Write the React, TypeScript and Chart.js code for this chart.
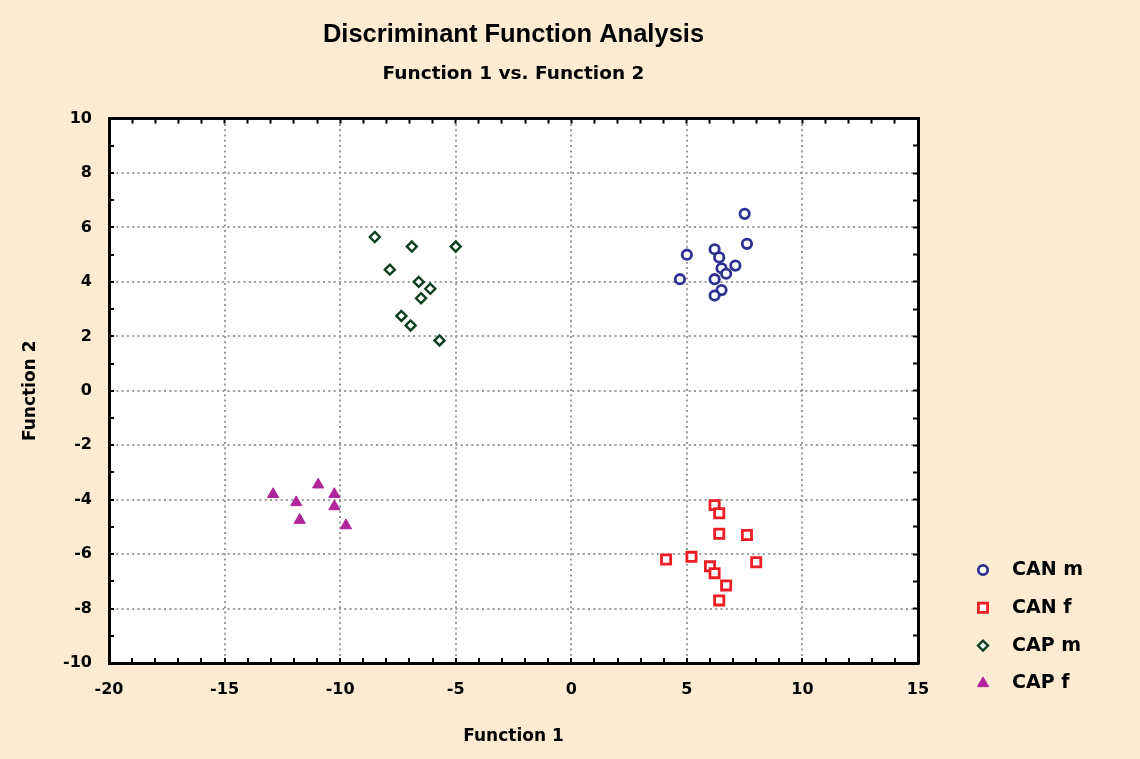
import React, { useEffect, useRef } from 'react';
import { Chart, registerables } from 'chart.js';
import { drawPoint } from 'chart.js/helpers';

Chart.register(...registerables);

// ---- Texts ----
const TITLE = 'Discriminant Function Analysis';
const SUBTITLE = 'Function 1 vs. Function 2';
const X_TITLE = 'Function 1';
const Y_TITLE = 'Function 2';
const SERIES_LABELS = ['CAN m', 'CAN f', 'CAP m', 'CAP f'];

// ---- Tick labels ----
const X_TICK_LABELS = [-20, -15, -10, -5, 0, 5, 10, 15];
const Y_TICK_LABELS = [-10, -8, -6, -4, -2, 0, 2, 4, 6, 8, 10];

// ---- Series values ----
const CAN_M_X = [7.5, 7.6, 5.0, 6.2, 6.4, 7.1, 6.5, 6.7, 4.7, 6.2, 6.5, 6.2];
const CAN_M_Y = [6.5, 5.4, 5.0, 5.2, 4.9, 4.6, 4.5, 4.3, 4.1, 4.1, 3.7, 3.5];

const CAN_F_X = [6.2, 6.4, 6.4, 7.6, 4.1, 5.2, 8.0, 6.0, 6.2, 6.7, 6.4];
const CAN_F_Y = [-4.2, -4.5, -5.25, -5.3, -6.2, -6.1, -6.3, -6.45, -6.7, -7.15, -7.7];

const CAP_M_X = [-8.5, -6.9, -5.0, -7.85, -6.6, -6.1, -6.5, -7.35, -6.95, -5.7];
const CAP_M_Y = [5.65, 5.3, 5.3, 4.45, 4.0, 3.75, 3.4, 2.75, 2.4, 1.85];

const CAP_F_X = [-12.9, -10.95, -11.9, -10.25, -10.25, -11.75, -9.75];
const CAP_F_Y = [-3.8, -3.45, -4.1, -3.8, -4.25, -4.75, -4.95];

// ---- Styles ----
const PAGE_BG = '#FDEBD3';
const GRID_COLOR = '#9A9A9A';
const SANS = 'DejaVu Sans';

const toPoints = (xs: number[], ys: number[]) => xs.map((x, i) => ({ x, y: ys[i] }));

const plotBgPlugin = {
  id: 'plotBg',
  beforeDraw(chart: any) {
    const { ctx, chartArea } = chart;
    if (!chartArea) return;
    ctx.save();
    ctx.fillStyle = '#ffffff';
    ctx.fillRect(chartArea.left, chartArea.top, chartArea.right - chartArea.left, chartArea.bottom - chartArea.top);
    ctx.restore();
  },
};

const LEG_MARK_X = 983;
const LEG_TEXT_X = 1012;
const LEG_Y0 = 570;
const LEG_STEP = 37.8;

const sideLegendPlugin = {
  id: 'sideLegend',
  afterDraw(chart: any) {
    const ctx = chart.ctx;
    chart.data.datasets.forEach((ds: any, i: number) => {
      const y = LEG_Y0 + i * LEG_STEP;
      ctx.save();
      ctx.lineWidth = ds.borderWidth;
      ctx.strokeStyle = ds.borderColor;
      ctx.fillStyle = ds.backgroundColor;
      drawPoint(ctx, { pointStyle: ds.pointStyle, radius: ds.pointRadius, rotation: 0, borderWidth: ds.borderWidth } as any, LEG_MARK_X, y);
      ctx.fillStyle = '#000';
      ctx.font = `bold 19px "${SANS}"`;
      ctx.textBaseline = 'middle';
      ctx.textAlign = 'left';
      ctx.fillText(ds.label, LEG_TEXT_X, y);
      ctx.restore();
    });
  },
};

const tickFont = { family: SANS, size: 16, weight: 'bold' as const };
const axisTitleFont = { family: SANS, size: 17, weight: 'bold' as const };

export default function App() {
  const ref = useRef<HTMLCanvasElement>(null);

  useEffect(() => {
    document.body.style.margin = '0';
    document.body.style.background = PAGE_BG;
    const canvas = ref.current;
    if (!canvas) return;

    const chart = new Chart(canvas, {
      type: 'scatter',
      data: {
        datasets: [
          {
            label: SERIES_LABELS[0],
            data: toPoints(CAN_M_X, CAN_M_Y),
            pointStyle: 'circle',
            pointRadius: 4.7,
            borderWidth: 2.8,
            borderColor: '#2E3192',
            backgroundColor: '#ffffff',
          },
          {
            label: SERIES_LABELS[1],
            data: toPoints(CAN_F_X, CAN_F_Y),
            pointStyle: 'rect',
            pointRadius: 6.5,
            borderWidth: 2.8,
            borderColor: '#EE1C24',
            backgroundColor: '#ffffff',
          },
          {
            label: SERIES_LABELS[2],
            data: toPoints(CAP_M_X, CAP_M_Y),
            pointStyle: 'rectRot',
            pointRadius: 5,
            borderWidth: 2.4,
            borderColor: '#0B3F1F',
            backgroundColor: '#ffffff',
          },
          {
            label: SERIES_LABELS[3],
            data: toPoints(CAP_F_X, CAP_F_Y),
            pointStyle: 'triangle',
            pointRadius: 6.5,
            borderWidth: 1,
            borderColor: '#B0259C',
            backgroundColor: '#B0259C',
          },
        ] as any,
      },
      options: {
        animation: false,
        responsive: true,
        maintainAspectRatio: false,
        layout: { padding: { left: 0, right: 222, top: 0, bottom: 0 } },
        plugins: {
          legend: { display: false },
          tooltip: { enabled: false },
          title: {
            display: true,
            text: TITLE,
            fullSize: false,
            color: '#000',
            font: { family: 'Liberation Sans', size: 25.5, weight: 'bold' },
            padding: { top: 20, bottom: 0 },
          },
          subtitle: {
            display: true,
            text: SUBTITLE,
            fullSize: false,
            color: '#000',
            font: { family: SANS, size: 18.5, weight: 'bold' },
            padding: { top: 12.4, bottom: 33.4 },
          },
        },
        scales: {
          x: {
            type: 'linear',
            position: 'bottom',
            min: -20,
            max: 15,
            afterFit: (s: any) => { s.height = 96; },
            ticks: {
              stepSize: 1,
              autoSkip: false,
              maxRotation: 0,
              padding: 22.4,
              color: '#000',
              font: tickFont,
              callback: (v: any) => (X_TICK_LABELS.includes(Number(v)) ? String(v) : ''),
            },
            grid: {
              color: (c: any) => (X_TICK_LABELS.includes(c.tick?.value) ? GRID_COLOR : 'rgba(0,0,0,0)'),
              lineWidth: 2,
              drawTicks: true,
              tickLength: -5,
              tickColor: '#000',
              tickWidth: 2,
            },
            border: { display: true, color: '#000', width: 3, dash: [2, 3.3] },
            title: { display: true, text: X_TITLE, color: '#000', font: axisTitleFont, padding: { top: 0, bottom: 11.8 } },
          },
          y: {
            type: 'linear',
            position: 'left',
            min: -10,
            max: 10,
            afterFit: (s: any) => { s.width = 109; },
            ticks: {
              stepSize: 1,
              autoSkip: false,
              padding: 22,
              color: '#000',
              font: tickFont,
              callback: (v: any) => (Y_TICK_LABELS.includes(Number(v)) ? String(v) : ''),
            },
            grid: {
              color: (c: any) => (Y_TICK_LABELS.includes(c.tick?.value) ? GRID_COLOR : 'rgba(0,0,0,0)'),
              lineWidth: 2,
              drawTicks: true,
              tickLength: -5,
              tickColor: '#000',
              tickWidth: 2,
            },
            border: { display: true, color: '#000', width: 3, dash: [2, 3.3] },
            title: { display: true, text: Y_TITLE, color: '#000', font: axisTitleFont, padding: { top: 20, bottom: 0 } },
          },
          x2: {
            type: 'linear',
            position: 'top',
            min: -20,
            max: 15,
            afterFit: (s: any) => { s.height = 0; },
            ticks: { display: false, stepSize: 1, autoSkip: false },
            grid: { drawOnChartArea: false, drawTicks: true, tickLength: -5, tickColor: '#000', tickWidth: 2 },
            border: { display: true, color: '#000', width: 3 },
          },
          y2: {
            type: 'linear',
            position: 'right',
            min: -10,
            max: 10,
            afterFit: (s: any) => { s.width = 0; },
            ticks: { display: false, stepSize: 1, autoSkip: false },
            grid: { drawOnChartArea: false, drawTicks: true, tickLength: -5, tickColor: '#000', tickWidth: 2 },
            border: { display: true, color: '#000', width: 3 },
          },
        },
      } as any,
      plugins: [plotBgPlugin, sideLegendPlugin],
    });

    return () => chart.destroy();
  }, []);

  return (
    <div style={{ width: 1140, height: 759, background: PAGE_BG, position: 'relative' }}>
      <canvas ref={ref} />
    </div>
  );
}
